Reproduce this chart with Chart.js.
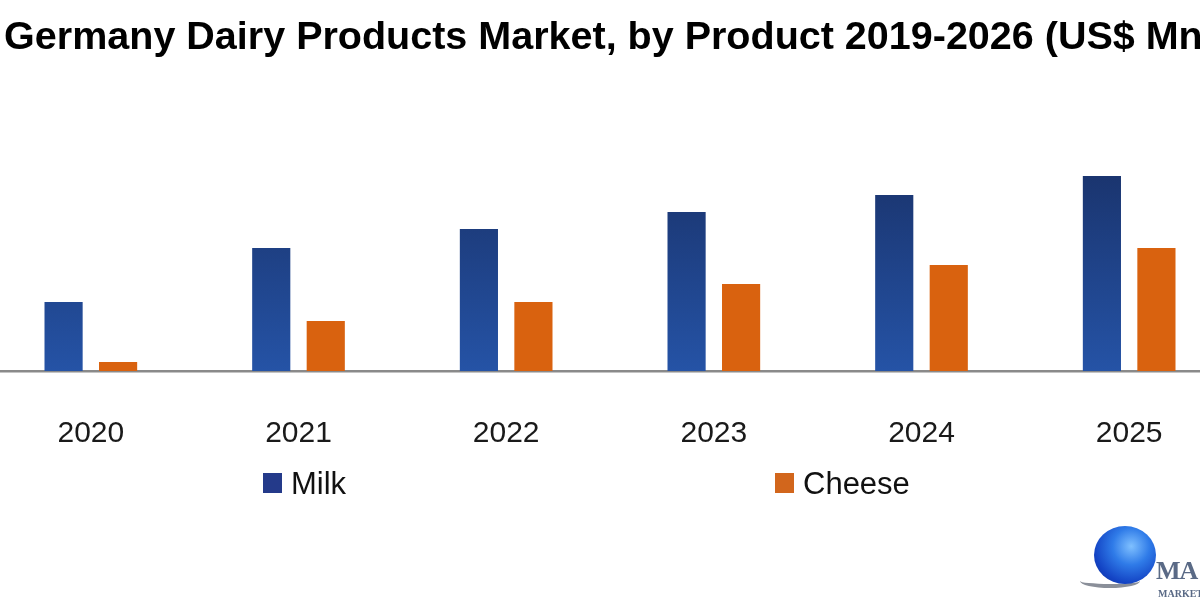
<!DOCTYPE html>
<html>
<head>
<meta charset="utf-8">
<script src="https://cdn.jsdelivr.net/npm/chart.js@4.4.1/dist/chart.umd.min.js"></script>
<style>
  html, body { margin: 0; padding: 0; background: #ffffff; overflow: hidden; width: 1200px; height: 600px; }
  #wrap { position: absolute; left: -13px; top: 0; width: 1246px; height: 600px; }
  #logo { position: absolute; left: 1078px; top: 522px; width: 140px; height: 78px; }
  #globe { position: absolute; left: 16px; top: 4px; width: 62px; height: 58px; border-radius: 50%;
           background: radial-gradient(circle at 60% 35%, #7fc0ff 0%, #2f7be8 35%, #1343c4 70%, #0b2a8a 100%); }
  #swoosh { position: absolute; left: 2px; top: 52px; width: 60px; height: 10px; border-radius: 50%;
            border-bottom: 4px solid #8a8f99; }
  #ma { position: absolute; left: 78px; top: 34px; font: bold 26px "Liberation Serif", serif; color: #5a6a86; letter-spacing: -1px; }
  #mark { position: absolute; left: 80px; top: 66px; font: bold 10px "Liberation Serif", serif; color: #5a6a86; }
</style>
</head>
<body>
<div id="wrap"><canvas id="c" width="1246" height="600"></canvas></div>
<div id="logo"><div id="swoosh"></div><div id="globe"></div><div id="ma">MA</div><div id="mark">MARKET</div></div>
<script>
const titleText = "Germany Dairy Products Market, by Product 2019-2026 (US$ Mn)";
const categories = ["2020", "2021", "2022", "2023", "2024", "2025"];
const milkValues = [69, 123, 142, 159, 176, 195];
const cheeseValues = [9, 50, 69, 87, 106, 123];
const seriesNames = ["Milk", "Cheese"];

const legendPlugin = {
  id: 'spreadLegend',
  afterDraw(chart, args, opts) {
    const ctx = chart.ctx;
    ctx.save();
    chart.data.datasets.forEach((ds, i) => {
      const x = opts.positions[i];
      const y = opts.y;
      ctx.fillStyle = opts.boxColors[i];
      ctx.fillRect(x, y - 10, 19, 20);
      ctx.fillStyle = '#111111';
      ctx.font = '31px "Liberation Sans", Arial, sans-serif';
      ctx.textBaseline = 'middle';
      ctx.textAlign = 'left';
      ctx.fillText(ds.label, x + 28, y + 2);
    });
    ctx.restore();
  }
};

const ctx = document.getElementById('c').getContext('2d');
new Chart(ctx, {
  type: 'bar',
  data: {
    labels: categories,
    datasets: [
      {
        label: seriesNames[0],
        data: milkValues,
        backgroundColor: (c) => {
          const ca = c.chart.chartArea;
          if (!ca) return '#1f4590';
          const g = c.chart.ctx.createLinearGradient(0, ca.top, 0, ca.bottom);
          g.addColorStop(0, '#16295a');
          g.addColorStop(1, '#2553a6');
          return g;
        },
        borderWidth: 0
      },
      {
        label: seriesNames[1],
        data: cheeseValues,
        backgroundColor: '#d9620f',
        borderWidth: 0
      }
    ]
  },
  options: {
    responsive: false,
    animation: false,
    devicePixelRatio: 1,
    layout: { padding: 0 },
    datasets: { bar: { categoryPercentage: 0.525, barPercentage: 0.70 } },
    scales: {
      x: {
        grid: { display: false, drawTicks: false },
        border: { display: true, color: '#8a8a8a', width: 2.5 },
        ticks: { color: '#1a1a1a', padding: 45, font: { family: '"Liberation Sans", Arial, sans-serif', size: 30 } },
        afterFit: (s) => { s.height = 229; }
      },
      y: { display: false, min: 0, max: 271 }
    },
    plugins: {
      legend: { display: false },
      tooltip: { enabled: false },
      title: {
        display: true,
        text: titleText,
        color: '#000000',
        font: { family: '"Liberation Sans", Arial, sans-serif', size: 39.5, weight: 'bold' },
        padding: { top: 14.6, bottom: 38 }
      },
      spreadLegend: { positions: [276, 788], y: 483, boxColors: ['#243a8a', '#d2661c'] }
    }
  },
  plugins: [legendPlugin]
});
</script>
</body>
</html>
